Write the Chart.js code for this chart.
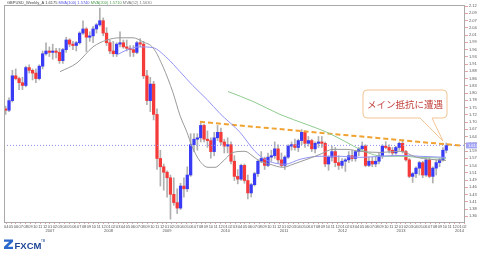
<!DOCTYPE html>
<html>
<head>
<meta charset="utf-8">
<script src="https://cdn.jsdelivr.net/npm/chart.js@4.4.1/dist/chart.umd.min.js"></script>
<style>
  html, body { margin: 0; padding: 0; background: #fff; }
  canvas { display: block; }
</style>
</head>
<body>
<canvas id="chart" width="477" height="255"></canvas>
<script>
// GBPUSD weekly chart, candles grouped by 3 weeks
// x values are months counted from Jan 2006
var firstCandle = 2.9;
var candleStep = 0.69;

var openSeries = [
  1.750,1.745,1.780,1.870,1.860,1.845,1.835,1.900,1.890,1.880,1.860,1.905,
  1.950,1.960,1.955,1.960,1.955,1.925,1.965,2.000,1.985,1.980,1.990,2.025,
  2.040,2.010,2.015,2.040,2.055,2.070,2.025,1.990,1.960,1.950,1.985,1.990,
  1.975,1.970,1.965,1.955,1.990,1.985,1.870,1.780,1.840,1.730,1.570,1.540,
  1.520,1.500,1.440,1.410,1.390,1.470,1.460,1.510,1.620,1.640,1.645,1.690,
  1.640,1.635,1.595,1.645,1.665,1.630,1.615,1.620,1.560,1.505,1.495,1.545,
  1.490,1.445,1.475,1.515,1.560,1.570,1.545,1.575,1.580,1.605,1.565,1.545,
  1.575,1.615,1.620,1.610,1.635,1.665,1.625,1.635,1.605,1.625,1.630,1.625,
  1.550,1.575,1.595,1.555,1.545,1.560,1.565,1.580,1.570,1.595,1.605,1.615,
  1.545,1.560,1.550,1.560,1.580,1.615,1.610,1.600,1.590,1.610,1.625,1.595,
  1.565,1.505,1.515,1.535,1.555,1.510,1.565,1.505,1.535,1.555,1.565,1.600
];
var highSeries = [
  1.760,1.790,1.890,1.895,1.865,1.865,1.905,1.910,1.895,1.895,1.910,1.960,
  1.990,1.975,1.985,1.970,1.970,1.970,2.010,2.005,1.995,1.995,2.030,2.070,
  2.045,2.030,2.050,2.060,2.116,2.080,2.045,2.000,1.995,1.990,2.030,2.000,
  2.000,1.980,1.980,1.995,2.005,1.995,1.890,1.865,1.850,1.750,1.600,1.550,
  1.525,1.510,1.500,1.460,1.480,1.500,1.540,1.660,1.660,1.660,1.704,1.695,
  1.670,1.645,1.665,1.690,1.680,1.640,1.645,1.630,1.580,1.530,1.550,1.550,
  1.510,1.480,1.520,1.565,1.595,1.575,1.590,1.600,1.630,1.620,1.590,1.580,
  1.620,1.630,1.640,1.640,1.675,1.670,1.650,1.640,1.630,1.650,1.650,1.630,
  1.580,1.615,1.610,1.580,1.570,1.570,1.595,1.600,1.600,1.610,1.630,1.620,
  1.575,1.575,1.575,1.590,1.620,1.631,1.620,1.610,1.615,1.630,1.638,1.600,
  1.570,1.520,1.540,1.560,1.560,1.570,1.575,1.540,1.565,1.570,1.610,1.626
];
var lowSeries = [
  1.730,1.740,1.775,1.855,1.820,1.820,1.830,1.880,1.855,1.845,1.855,1.895,
  1.945,1.940,1.930,1.935,1.915,1.915,1.955,1.975,1.965,1.960,1.985,2.020,
  1.958,1.995,1.990,2.025,2.050,2.015,1.980,1.950,1.940,1.940,1.975,1.970,
  1.960,1.940,1.940,1.950,1.975,1.860,1.765,1.740,1.710,1.530,1.470,1.455,
  1.430,1.350,1.400,1.370,1.385,1.430,1.450,1.505,1.595,1.600,1.630,1.630,
  1.610,1.571,1.580,1.635,1.620,1.590,1.590,1.550,1.490,1.478,1.490,1.480,
  1.423,1.430,1.470,1.505,1.555,1.530,1.540,1.560,1.570,1.553,1.540,1.530,
  1.570,1.600,1.600,1.595,1.620,1.610,1.615,1.595,1.590,1.610,1.610,1.540,
  1.527,1.560,1.540,1.530,1.535,1.523,1.555,1.560,1.560,1.580,1.600,1.540,
  1.540,1.540,1.540,1.550,1.570,1.605,1.590,1.580,1.585,1.600,1.590,1.560,
  1.500,1.483,1.500,1.510,1.500,1.505,1.500,1.481,1.510,1.540,1.560,1.590
];
var closeSeries = [
  1.745,1.780,1.870,1.860,1.845,1.835,1.900,1.890,1.880,1.860,1.905,1.950,
  1.960,1.955,1.960,1.955,1.925,1.965,2.000,1.985,1.980,1.990,2.025,2.040,
  2.010,2.015,2.040,2.055,2.070,2.025,1.990,1.960,1.950,1.985,1.990,1.975,
  1.970,1.965,1.955,1.990,1.985,1.870,1.780,1.840,1.730,1.570,1.540,1.520,
  1.500,1.440,1.410,1.390,1.470,1.460,1.510,1.620,1.640,1.645,1.690,1.640,
  1.635,1.595,1.645,1.665,1.630,1.615,1.620,1.560,1.505,1.495,1.545,1.490,
  1.445,1.475,1.515,1.560,1.570,1.545,1.575,1.580,1.605,1.565,1.545,1.575,
  1.615,1.620,1.610,1.635,1.665,1.625,1.635,1.605,1.625,1.630,1.625,1.550,
  1.575,1.595,1.555,1.545,1.560,1.565,1.580,1.570,1.595,1.605,1.615,1.545,
  1.560,1.550,1.560,1.580,1.615,1.610,1.600,1.590,1.610,1.625,1.595,1.565,
  1.505,1.515,1.535,1.555,1.510,1.565,1.505,1.535,1.555,1.565,1.600,1.6175
];

// moving averages
var sma52X = [14.05,17.54,20.82,23.69,26.36,29.03,31.08,33.13,35.18,37.23,38.67,40.10,41.13,42.77,44.41,45.85,47.49,49.54,52.0,53.64,55.08,57.13,59.79,61.85,64.72,67.38,70.05,72.92,75.59,79.69,83.79,87.28,89.95,93.23];
var sma52Y = [1.885,1.917,1.975,2.000,2.008,2.008,1.993,1.972,1.903,1.809,1.726,1.665,1.614,1.560,1.538,1.538,1.560,1.592,1.596,1.578,1.560,1.549,1.538,1.549,1.567,1.585,1.603,1.603,1.596,1.592,1.596,1.574,1.567,1.563];
var sma100X = [25.74,27.79,30.46,33.13,36.0,38.67,41.33,44.21,46.87,50.97,54.05,56.10,58.15,60.21,63.28,67.38,71.49,75.59,79.69,83.79,87.90,93.23];
var sma100Y = [1.946,1.964,1.975,1.972,1.935,1.885,1.834,1.784,1.733,1.665,1.596,1.567,1.553,1.549,1.567,1.578,1.578,1.574,1.578,1.581,1.578,1.574];
var sma200X = [48.51,53.64,59.18,64.72,68.82,72.92,75.59,80.31,83.79,87.90,93.23];
var sma200Y = [1.813,1.777,1.730,1.693,1.665,1.628,1.603,1.578,1.578,1.574,1.571];

// resistance trend line and current price line
var resistX = [42.77, 96.7];
var resistY = [1.703, 1.616];
var lastPrice = 1.6175;

var monthNames = ['01','02','03','04','05','06','07','08','09','10','11','12'];
var yearNames = ['2007','2008','2009','2010','2011','2012','2013','2014'];
var xMin = 2.564, xMax = 97.13;
var yMin = 1.3395, yMax = 2.127;
var tickBase = 1.5970, tickStep = 0.0263;

var headerParts = [
  { text: 'GBPUSD_Weekly_A 1.6175 ', color: '#444444' },
  { text: 'MVA(100) 1.5740 ', color: '#5050e0' },
  { text: 'MVA(200) 1.5710 ', color: '#4fa04f' },
  { text: 'MVA(52) 1.5630', color: '#7a7a7a' }
];

var wicks = [], bodies = [], bodyColors = [];
for (var i = 0; i < closeSeries.length; i++) {
  var m = firstCandle + i * candleStep;
  wicks.push({ x: m, y: [lowSeries[i], highSeries[i]] });
  bodies.push({ x: m, y: [openSeries[i], closeSeries[i]] });
  bodyColors.push(closeSeries[i] >= openSeries[i] ? '#3a3cf5' : '#f53a3a');
}
function pairs(xs, ys) {
  return xs.map(function (x, k) { return { x: x, y: ys[k] }; });
}

var monthTicks = [];
for (var mt = 3; mt <= 97; mt++) monthTicks.push({ value: mt });
var priceTicks = [];
var tv = tickBase;
while (tv - tickStep > yMin) tv -= tickStep;
for (; tv < yMax; tv += tickStep) priceTicks.push({ value: tv });

var extras = {
  id: 'extras',
  afterDraw: function (chart) {
    var ctx = chart.ctx, a = chart.chartArea, ys = chart.scales.y;
    ctx.save();
    // plot frame
    ctx.strokeStyle = '#a9a9a9';
    ctx.lineWidth = 1;
    ctx.strokeRect(a.left + 0.5, a.top + 0.5, a.right - a.left - 1, a.bottom - a.top);

    // header line
    ctx.font = '4px "Liberation Sans"';
    ctx.textBaseline = 'middle';
    ctx.textAlign = 'left';
    var hx = a.left + 3;
    headerParts.forEach(function (p) {
      ctx.fillStyle = p.color;
      ctx.fillText(p.text, hx, 2.8);
      hx += ctx.measureText(p.text).width;
    });

    // current price tag
    var py = ys.getPixelForValue(lastPrice);
    ctx.fillStyle = '#a3a4f3';
    ctx.fillRect(a.right + 1, py - 3, 12, 6);
    ctx.fillStyle = '#ffffff';
    ctx.fillText(lastPrice.toFixed(4), a.right + 3, py + 0.3);

    // callout bubble
    var L = 363, T = 90, R = 447, B = 118, r = 4;
    ctx.beginPath();
    ctx.moveTo(L + r, T);
    ctx.lineTo(R - r, T);
    ctx.quadraticCurveTo(R, T, R, T + r);
    ctx.lineTo(R, B - r);
    ctx.quadraticCurveTo(R, B, R - r, B);
    ctx.lineTo(432, B);
    ctx.lineTo(443, 141);
    ctx.lineTo(420, B);
    ctx.lineTo(L + r, B);
    ctx.quadraticCurveTo(L, B, L, B - r);
    ctx.lineTo(L, T + r);
    ctx.quadraticCurveTo(L, T, L + r, T);
    ctx.closePath();
    ctx.fillStyle = '#ffffff';
    ctx.fill();
    ctx.strokeStyle = '#f4c595';
    ctx.lineWidth = 1;
    ctx.stroke();
    ctx.fillStyle = '#c2443c';
    ctx.font = '9.5px "Noto Sans CJK JP"';
    ctx.textAlign = 'center';
    ctx.fillText('メイン抵抗に遭遇', (L + R) / 2, 104);

    // FXCM logo
    ctx.fillStyle = '#2a68cc';
    ctx.beginPath();
    ctx.moveTo(4, 239.5); ctx.lineTo(13, 239.5); ctx.lineTo(13, 241.8);
    ctx.lineTo(7.8, 246.7); ctx.lineTo(13, 246.7); ctx.lineTo(13, 249);
    ctx.lineTo(4, 249); ctx.lineTo(4, 246.7); ctx.lineTo(9.2, 241.8);
    ctx.lineTo(4, 241.8); ctx.closePath();
    ctx.fill();
    ctx.fillStyle = '#1d4596';
    ctx.font = 'bold 9.5px "Liberation Sans"';
    ctx.textAlign = 'left';
    ctx.textBaseline = 'alphabetic';
    ctx.fillText('FXCM', 14.5, 249);
    ctx.font = '3px "Liberation Sans"';
    ctx.fillText('TM', 41, 242);
    ctx.restore();
  }
};

new Chart(document.getElementById('chart'), {
  type: 'bar',
  data: {
    datasets: [
      { type: 'line', data: pairs(sma52X, sma52Y), borderColor: '#9a9a9a', borderWidth: 1,
        pointRadius: 0, cubicInterpolationMode: 'monotone', order: 0 },
      { type: 'line', data: pairs(sma100X, sma100Y), borderColor: '#9494f5', borderWidth: 1,
        pointRadius: 0, cubicInterpolationMode: 'monotone', order: 0 },
      { type: 'line', data: pairs(sma200X, sma200Y), borderColor: '#8fcb8f', borderWidth: 1,
        pointRadius: 0, cubicInterpolationMode: 'monotone', order: 0 },
      { type: 'line', data: pairs(resistX, resistY), borderColor: '#f0a232', borderWidth: 2,
        borderDash: [5, 3], pointRadius: 0, order: 0 },
      { type: 'line', data: pairs([xMin, xMax], [lastPrice, lastPrice]), borderColor: '#8f8ff0',
        borderWidth: 1, borderDash: [1, 2], pointRadius: 0, order: 1 },
      { data: bodies, backgroundColor: bodyColors, barThickness: 2.6, grouped: false,
        minBarLength: 1, borderWidth: 0, order: 2 },
      { data: wicks, backgroundColor: '#b0b0b0', barThickness: 1, grouped: false,
        borderWidth: 0, order: 3 }
    ]
  },
  options: {
    responsive: false,
    animation: false,
    devicePixelRatio: 1,
    layout: { padding: { left: 4, top: 5, right: 0, bottom: 21 } },
    plugins: { legend: { display: false }, tooltip: { enabled: false } },
    scales: {
      x: {
        type: 'linear', min: xMin, max: xMax, offset: false,
        afterBuildTicks: function (s) { s.ticks = monthTicks; },
        afterFit: function (s) { s.height = 12; },
        grid: { offset: false, drawOnChartArea: false, tickLength: 2, color: '#e4a4a4' },
        border: { display: false },
        ticks: {
          autoSkip: false, maxRotation: 0, padding: 0, color: '#555',
          font: { size: 4, family: 'Liberation Sans' },
          callback: function (v) {
            var mo = monthNames[v % 12];
            if (v % 12 === 0) return [mo, yearNames[v / 12 - 1]];
            return mo;
          }
        }
      },
      y: {
        type: 'linear', position: 'right', min: yMin, max: yMax,
        afterBuildTicks: function (s) { s.ticks = priceTicks; },
        afterFit: function (s) { s.width = 12; },
        grid: { drawOnChartArea: false, tickLength: 3, color: '#e4a4a4' },
        border: { display: false },
        ticks: {
          autoSkip: false, padding: 1, color: '#555',
          font: { size: 4, family: 'Liberation Sans' },
          callback: function (v) { return v.toFixed(4); }
        }
      }
    }
  },
  plugins: [extras]
});
</script>
</body>
</html>
